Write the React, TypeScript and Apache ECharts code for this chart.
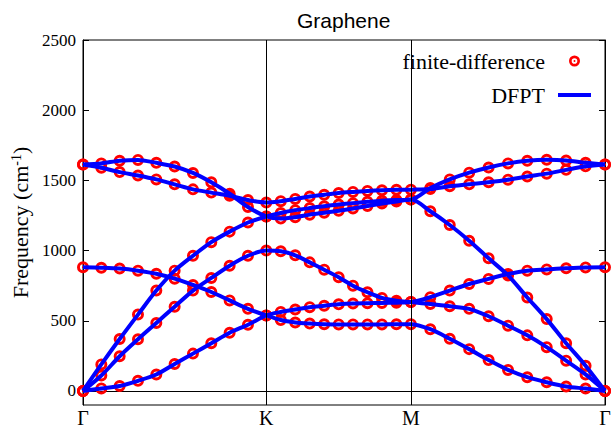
import React, { useEffect, useRef } from "react";
import * as echarts from "echarts";

// High-symmetry path
const kLabels = ["Γ", "K", "M", "Γ"];
const kPositions = [0, 1.0, 1.789, 2.848];

// q-point distances along Γ-K-M-Γ (31 points)
const qDist = [
  0, 0.1, 0.2, 0.3, 0.4, 0.5, 0.6, 0.7, 0.8, 0.9, 1.0,
  1.079, 1.158, 1.237, 1.316, 1.395, 1.473, 1.552, 1.631, 1.71, 1.789,
  1.895, 2.001, 2.107, 2.213, 2.319, 2.424, 2.53, 2.636, 2.742, 2.848,
];

const yTicks = [0, 500, 1000, 1500, 2000, 2500];

// Phonon branches (cm^-1)
const band1 = [
  0, 18, 35, 72, 117, 192, 266, 340, 415, 472, 538,
  563, 580, 597, 607, 617, 623, 625, 627, 629, 633,
  668, 715, 762, 798, 833, 857, 866, 874, 880, 881,
];
const band2 = [
  881, 878, 872, 857, 835, 800, 755, 705, 645, 585, 538,
  505, 488, 480, 475, 474, 474, 474, 474, 475, 476,
  440, 372, 298, 220, 150, 98, 62, 32, 17, 0,
];
const band3 = [
  0, 110, 247, 368, 484, 600, 715, 805, 892, 963, 1000,
  995, 966, 916, 864, 810, 750, 703, 663, 643, 633,
  620, 603, 585, 532, 465, 396, 312, 216, 118, 0,
];
const band4 = [
  0, 189, 370, 544, 715, 857, 963, 1060, 1135, 1200, 1243,
  1268, 1288, 1303, 1316, 1328, 1338, 1347, 1355, 1360, 1363,
  1445, 1507, 1555, 1592, 1621, 1640, 1647, 1642, 1625, 1613,
];
const band5 = [
  1613, 1621, 1640, 1646, 1625, 1599, 1553, 1486, 1405, 1310, 1243,
  1228, 1238, 1256, 1270, 1284, 1300, 1318, 1335, 1350, 1363,
  1280, 1182, 1070, 945, 823, 666, 512, 340, 180, 0,
];
const band6 = [
  1613, 1590, 1559, 1535, 1507, 1472, 1436, 1413, 1390, 1360, 1342,
  1352, 1368, 1385, 1398, 1410, 1418, 1425, 1430, 1433, 1434,
  1438, 1458, 1472, 1487, 1505, 1528, 1548, 1575, 1600, 1613,
];
const bands = [band1, band2, band3, band4, band5, band6];

const ringPath =
  "path://M10 0A10 10 0 1 1 10 20A10 10 0 1 1 10 0Z" +
  "M10 4.9A5.1 5.1 0 1 0 10 15.1A5.1 5.1 0 1 0 10 4.9Z" +
  "M10 8.2A1.8 1.8 0 1 1 10 11.8A1.8 1.8 0 1 1 10 8.2Z";

const legendRingPath =
  "path://M0 10L0 10ZM60 10L60 10Z" +
  "M30 0A10 10 0 1 1 30 20A10 10 0 1 1 30 0Z" +
  "M30 4.9A5.1 5.1 0 1 0 30 15.1A5.1 5.1 0 1 0 30 4.9Z" +
  "M30 8.2A1.8 1.8 0 1 1 30 11.8A1.8 1.8 0 1 1 30 8.2Z";

const legendLinePath = "path://M0 0L0 0ZM0 12L0 12ZM0 4L33 4L33 8L0 8Z";

const serif = "Liberation Serif";

export default function App() {
  const ref = useRef<HTMLDivElement>(null);
  useEffect(() => {
    const chart = echarts.init(ref.current!, undefined, { renderer: "svg" });
    const scatterData = bands.flatMap((b) => b.map((v, i) => [qDist[i], v]));
    const lineSeries = bands.map((b) => ({
      name: "DFPT",
      type: "line",
      data: b.map((v, i) => [qDist[i], v]),
      showSymbol: false,
      symbol: "none",
      smooth: 0.3,
      lineStyle: { color: "#0000ff", width: 4 },
      itemStyle: { color: "#0000ff" },
      z: 4,
      silent: true,
    }));
    const option: any = {
      animation: false,
      backgroundColor: "#fff",
      title: {
        text: "Graphene",
        left: 297,
        top: 10,
        padding: 0,
        textStyle: {
          fontFamily: "Liberation Sans",
          fontSize: 21,
          fontWeight: "normal",
          color: "#000",
        },
      },
      legend: {
        orient: "vertical",
        align: "right",
        right: 23,
        top: 50,
        padding: 0,
        itemGap: 12,
        itemWidth: 33,
        itemHeight: 12,
        selectedMode: false,
        data: [
          { name: "finite-difference", icon: legendRingPath },
          { name: "DFPT", icon: legendLinePath, itemStyle: { color: "#0000ff" } },
        ],
        textStyle: { fontFamily: serif, fontSize: 22, color: "#000", padding: [0, 8, 0, 0] },
      },
      grid: {
        left: 83,
        right: 9,
        top: 40,
        bottom: 21,
        show: true,
        borderColor: "#000",
        borderWidth: 1,
        backgroundColor: "transparent",
      },
      xAxis: {
        type: "value",
        min: kPositions[0],
        max: kPositions[kPositions.length - 1],
        axisLine: { show: true, lineStyle: { color: "#000", width: 1 } },
        axisTick: { show: false },
        splitLine: { show: false },
        axisLabel: {
          customValues: kPositions,
          formatter: (v: number) => {
            let best = 0;
            kPositions.forEach((p, i) => {
              if (Math.abs(p - v) < Math.abs(kPositions[best] - v)) best = i;
            });
            return kLabels[best];
          },
          fontFamily: serif,
          fontSize: 20,
          color: "#000",
          margin: 3,
        },
      },
      yAxis: [
        {
          type: "value",
          position: "left",
          min: -100,
          max: 2500,
          name: "Frequency (cm{sup|-1})",
          nameLocation: "middle",
          nameGap: 42,
          nameTextStyle: {
            fontFamily: serif,
            fontSize: 22,
            color: "#000",
            rich: {
              sup: { fontFamily: serif, fontSize: 14, verticalAlign: "top", color: "#000" },
            },
          },
          axisLine: { show: true, lineStyle: { color: "#000", width: 1 } },
          axisTick: {
            show: true,
            inside: true,
            length: 6,
            customValues: yTicks,
            lineStyle: { color: "#000" },
          },
          axisLabel: {
            customValues: yTicks,
            formatter: (v: number) => String(v),
            fontFamily: serif,
            fontSize: 17,
            color: "#000",
            margin: 7,
          },
          splitLine: { show: false },
        },
        {
          type: "value",
          position: "right",
          min: -100,
          max: 2500,
          axisLine: { show: true, lineStyle: { color: "#000", width: 1 } },
          axisTick: {
            show: true,
            inside: true,
            length: 6,
            customValues: yTicks,
            lineStyle: { color: "#000" },
          },
          axisLabel: { show: false },
          splitLine: { show: false },
        },
      ],
      series: [
        {
          name: "finite-difference",
          type: "scatter",
          data: scatterData,
          symbol: ringPath,
          symbolSize: 12,
          itemStyle: { color: "#ff0000", borderWidth: 0, opacity: 1 },
          z: 3,
          silent: true,
          markLine: {
            silent: true,
            symbol: ["none", "none"],
            label: { show: false },
            lineStyle: { color: "#000", width: 1, type: "solid" },
            data: [{ xAxis: kPositions[1] }, { xAxis: kPositions[2] }],
          },
        },
        ...lineSeries,
      ],
    };
    chart.setOption(option);
    return () => chart.dispose();
  }, []);
  return (
    <div
      ref={ref}
      style={{ position: "fixed", left: 0, top: 0, width: 614, height: 428, background: "#fff" }}
    />
  );
}
